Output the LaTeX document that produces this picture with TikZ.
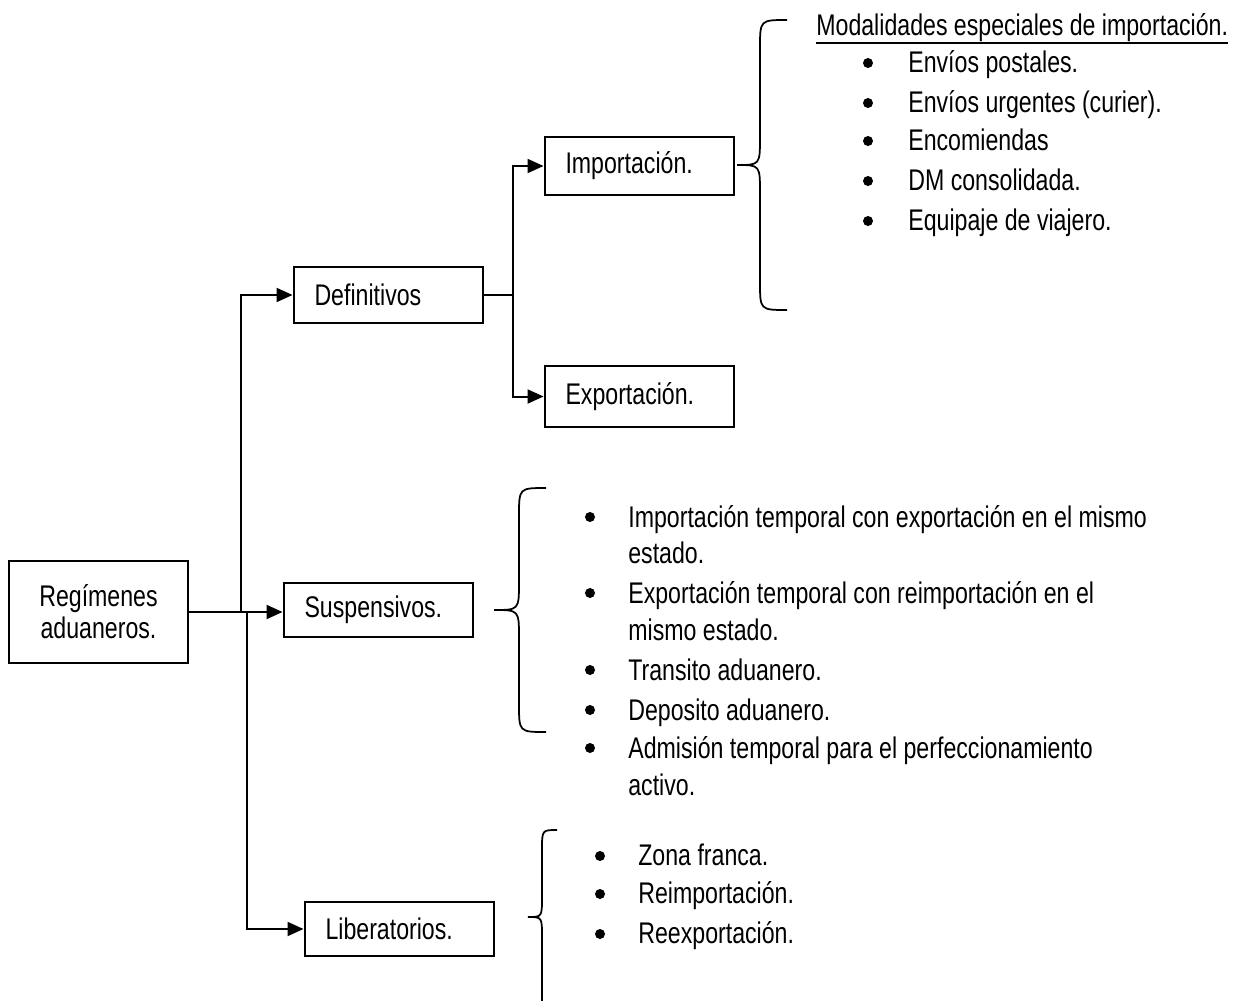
\documentclass[tikz,border=0pt]{standalone}
\usepackage{fontspec}
\setmainfont{Liberation Sans}[FakeStretch=0.775]
\usetikzlibrary{arrows.meta, positioning}

\tikzset{
  linea/.style={line width=0.04cm},
  caja/.style={draw, linea, inner xsep=0.42cm, inner ysep=0pt, text width=2.96cm, align=left},
  flecha/.style={linea, -{Triangle[length=0.32cm, width=0.28cm]}},
  llave/.style={line width=0.035cm},
  renglon/.style={inner sep=0pt, anchor=base west},
  vineta/.style={circle, fill, inner sep=0pt, minimum size=0.2cm}
}

\begin{document}
\begin{tikzpicture}[x=0.02cm, y=-0.02cm, font=\fontsize{17}{22}\selectfont]
        \useasboundingbox (0,0) rectangle (1249,1001);

        % cajas
        \node[draw, linea, align=center, minimum width=3.58cm, minimum height=2.04cm, font=\fontsize{17}{18.2}\selectfont] (reg) at (98.5,612) {Regímenes\\aduaneros.};
        \node[caja, minimum height=1.12cm] (defi) at (388.5,295) {Definitivos};
        \node[caja, minimum height=1.16cm] (impo) at (639.5,166) {Importación.};
        \node[caja, minimum height=1.22cm] (expo) at (639.5,396.5) {Exportación.};
        \node[caja, minimum height=1.08cm] (susp) at (378.5,610) {Suspensivos.};
        \node[caja, minimum height=1.08cm] (libe) at (399.5,929) {Liberatorios.};

        % conectores
        \coordinate (ramaA) at (241,612);
        \coordinate (ramaB) at (247,612);
        \coordinate (ramaC) at (513,295);
        \draw[flecha] (reg.east) -- (reg.east -| susp.west);
        \draw[flecha] (ramaA) |- (defi.west);
        \draw[flecha] (ramaB) |- (libe.west);
        \draw[linea] (defi.east) -- (ramaC);
        \draw[flecha] (ramaC) |- (impo.west);
        \draw[flecha] (ramaC) |- (expo.west);

        % llaves
        \draw[llave] (787,20) .. controls (760,20) .. (760,48) -- (760,137) .. controls (760,165) .. (737,165) .. controls (760,165) .. (760,193) -- (760,282) .. controls (760,310) .. (787,310);
        \draw[llave] (546,488) .. controls (519,488) .. (519,516) -- (519,582) .. controls (519,610) .. (494,610) .. controls (519,610) .. (519,638) -- (519,704) .. controls (519,732) .. (546,732);
        \draw[llave] (557,830) .. controls (542,830) .. (542,850) -- (542,897) .. controls (542,917) .. (528,917) .. controls (542,917) .. (542,937) -- (542,1001);

        % modalidades de importacion
        \node[renglon] (modal) at (816,35) {Modalidades especiales de importación.};
        \draw[line width=0.035cm] ([yshift=-1pt]modal.south west) -- ([yshift=-1pt]modal.south east);
        \foreach \y/\txt [count=\i] in {72/Envíos postales., 112/Envíos urgentes (curier)., 150/Encomiendas, 190/DM consolidada., 230/Equipaje de viajero.}{
            \node[vineta] (modal-b\i) at (868,\y-9) {};
            \node[renglon] (modal-\i) at (908,\y) {\txt};
        }

        % suspensivos
        \foreach \y/\b/\txt [count=\i] in {527/1/Importación temporal con exportación en el mismo, 563/0/estado., 603/1/Exportación temporal con reimportación en el, 640/0/mismo estado., 680/1/Transito aduanero., 720/1/Deposito aduanero., 758/1/Admisión temporal para el perfeccionamiento, 795/0/activo.}{
            \ifnum\b=1 \node[vineta] (susp-b\i) at (590,\y-10) {}; \fi
            \node[renglon] (susp-\i) at (628,\y) {\txt};
        }

        % liberatorios
        \foreach \y/\txt [count=\i] in {865/Zona franca., 903/Reimportación., 943/Reexportación.}{
            \node[vineta] (libe-b\i) at (600,\y-9) {};
            \node[renglon] (libe-\i) at (638,\y) {\txt};
        }
\end{tikzpicture}
\end{document}
